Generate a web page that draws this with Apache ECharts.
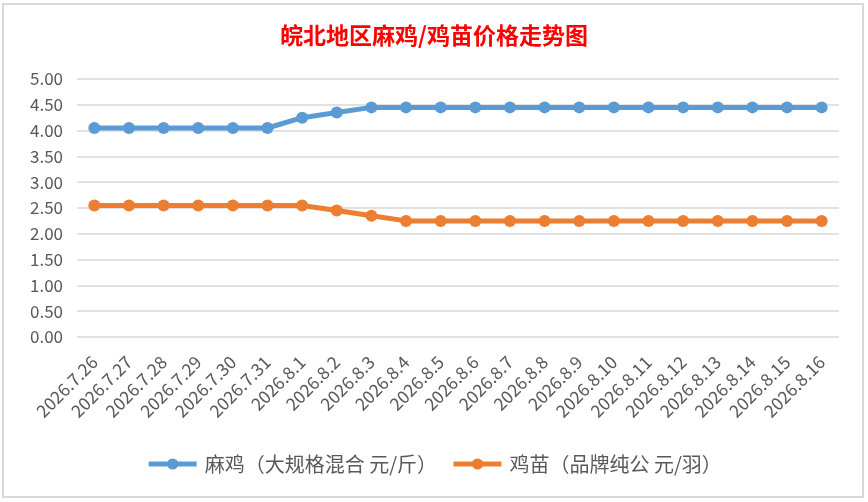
<!DOCTYPE html>
<html><head><meta charset="utf-8">
<script src="https://cdn.jsdelivr.net/npm/echarts@6/dist/echarts.min.js"></script>
<style>html,body{margin:0;padding:0;background:#fff}#c{width:868px;height:502px}</style>
</head><body><div id="c"></div>
<script>
const titleText = '皖北地区麻鸡/鸡苗价格走势图';
const categories = ['2026.7.26','2026.7.27','2026.7.28','2026.7.29','2026.7.30','2026.7.31','2026.8.1','2026.8.2','2026.8.3','2026.8.4','2026.8.5','2026.8.6','2026.8.7','2026.8.8','2026.8.9','2026.8.10','2026.8.11','2026.8.12','2026.8.13','2026.8.14','2026.8.15','2026.8.16'];
const seriesNames = ['麻鸡（大规格混合 元/斤）','鸡苗（品牌纯公 元/羽）'];
const maji = [4.05,4.05,4.05,4.05,4.05,4.05,4.25,4.35,4.45,4.45,4.45,4.45,4.45,4.45,4.45,4.45,4.45,4.45,4.45,4.45,4.45,4.45];
const jimiao = [2.55,2.55,2.55,2.55,2.55,2.55,2.55,2.45,2.35,2.25,2.25,2.25,2.25,2.25,2.25,2.25,2.25,2.25,2.25,2.25,2.25,2.25];
const colors = ['#5B9BD5','#ED7D31'];

const chart = echarts.init(document.getElementById('c'));
const font = '"Noto Sans CJK SC","Noto Sans",sans-serif';
chart.setOption({
  animation:false,
  backgroundColor:'#fff',
  textStyle:{fontFamily:font},
  graphic:[
    {type:'rect',shape:{x:3,y:4,width:860,height:493},style:{fill:'none',stroke:'#d9d9d9',lineWidth:2},z:-1}
  ],
  title:{text:titleText,left:'center',top:19,textStyle:{color:'#FF0000',fontSize:23,fontWeight:'bold',fontFamily:font}},
  legend:{bottom:23,left:'center',itemWidth:48,itemHeight:14,itemGap:14,
    lineStyle:{width:5},
    textStyle:{color:'#595959',fontSize:20,padding:[0,0,0,3],fontFamily:font},
    data:seriesNames},
  grid:{left:77,right:29,top:79,bottom:165,containLabel:false},
  xAxis:{type:'category',data:categories,boundaryGap:true,
    axisLine:{show:false},axisTick:{show:false},
    axisLabel:{rotate:45,interval:0,color:'#595959',fontSize:17.5,margin:22,fontFamily:font}},
  yAxis:{type:'value',min:0,max:5,interval:0.5,
    axisLine:{show:false},axisTick:{show:false},
    splitLine:{lineStyle:{color:'#d9d9d9',width:1.5}},
    axisLabel:{color:'#595959',fontSize:17,margin:14,formatter:v=>v.toFixed(2),fontFamily:font}},
  series:[
    {name:seriesNames[0],type:'line',data:maji,color:colors[0],symbol:'circle',symbolSize:12,
      lineStyle:{width:5,color:colors[0]},itemStyle:{color:colors[0]}},
    {name:seriesNames[1],type:'line',data:jimiao,color:colors[1],symbol:'circle',symbolSize:12,
      lineStyle:{width:5,color:colors[1]},itemStyle:{color:colors[1]}}
  ]
});
</script></body></html>
